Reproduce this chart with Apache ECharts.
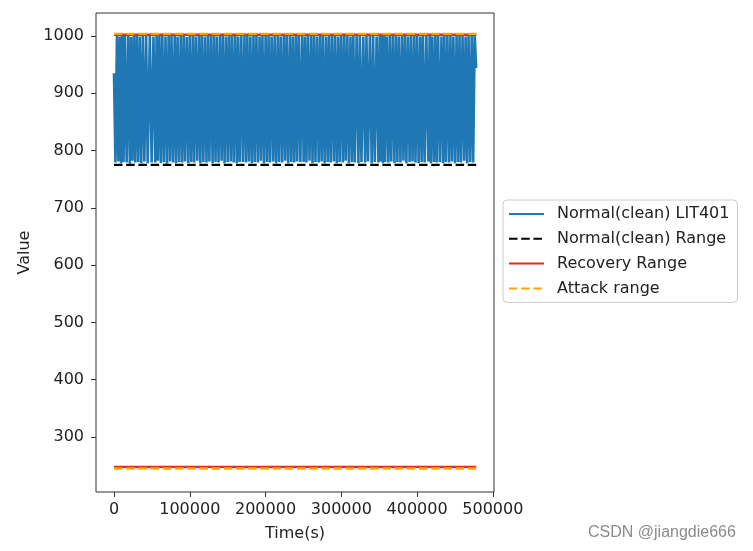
<!DOCTYPE html>
<html>
<head>
<meta charset="utf-8">
<script src="https://cdn.jsdelivr.net/npm/echarts@6/dist/echarts.min.js"></script>
<style>
  html, body { margin: 0; padding: 0; background: #fff; }
  #chart { width: 753px; height: 551px; }
</style>
</head>
<body>
<div id="chart"></div>
<script>
// ---- Data ----
// LIT401 vertex times, in thousands of seconds
const lit401TimeKs = [
  0, 1.9, 3.9, 5.8, 7.6, 9.4, 11.0, 12.6, 14.5, 16.7, 18.9, 20.9, 22.6, 24.4, 26.3, 28.1, 30.0, 32.0, 33.9, 36.0,
  38.0, 40.1, 42.4, 44.5, 47.3, 49.7, 52.1, 54.5, 56.2, 58.0, 59.9, 61.9, 63.8, 65.9, 68.0, 70.0, 72.1, 74.0, 75.9, 78.0,
  80.1, 82.0, 83.9, 86.0, 88.1, 90.0, 92.0, 93.9, 96.0, 98.1, 100.0, 102.0, 104.1, 105.9, 108.0, 110.0, 112.1, 114.0, 115.9, 118.0,
  120.0, 122.1, 124.0, 125.9, 128.0, 130.1, 132.0, 134.0, 135.9, 138.0, 140.1, 142.0, 144.0, 145.9, 148.1, 150.0, 152.0, 154.1, 155.9, 158.0,
  160.0, 162.1, 163.9, 165.8, 168.0, 170.1, 172.2, 174.2, 176.0, 178.1, 180.0, 182.0, 184.1, 185.9, 188.0, 190.0, 192.1, 194.0, 195.9, 198.0,
  200.1, 202.0, 204.0, 205.9, 208.0, 210.1, 212.0, 214.0, 216.1, 217.9, 220.0, 222.0, 224.1, 226.0, 227.9, 230.0, 232.1, 234.0, 236.0, 237.9,
  240.0, 241.8, 243.8, 246.0, 248.2, 250.3, 252.0, 254.0, 255.9, 258.0, 260.1, 262.0, 264.0, 265.9, 268.0, 270.1, 272.0, 274.0, 275.9, 278.0,
  280.1, 282.0, 284.0, 285.9, 288.0, 290.1, 292.0, 294.0, 296.1, 297.9, 300.0, 302.1, 304.0, 305.9, 308.0, 310.0, 312.1, 314.0, 315.9, 317.8,
  320.2, 322.6, 324.4, 326.6, 329.0, 331.4, 333.2, 335.3, 337.7, 340.1, 342.0, 344.2, 346.6, 349.0, 350.6, 352.0, 353.5, 355.0, 356.5, 357.9,
  360.0, 362.1, 364.0, 365.9, 368.0, 370.1, 372.0, 374.0, 375.9, 378.0, 380.1, 382.0, 384.0, 385.9, 388.0, 390.1, 392.0, 394.0, 396.1, 397.9,
  400.0, 402.0, 404.1, 406.0, 407.8, 409.9, 412.3, 414.7, 416.6, 418.2, 420.0, 422.1, 424.0, 425.8, 427.8, 430.0, 432.2, 434.2, 436.0, 437.9,
  440.0, 442.1, 444.0, 446.0, 447.9, 450.0, 452.1, 454.0, 456.0, 457.9, 460.0, 462.1, 464.0, 466.0, 467.9, 470.0, 472.1, 474.0, 476.0, 478.0
];
// LIT401 tank level at those vertices
const lit401Value = [
  935, 779, 1000, 781, 999, 778, 1001, 780, 1000, 779, 1000, 777, 998, 782, 1000, 779, 1001, 780, 999, 778,
  1000, 781, 1001, 778, 1000, 779, 999, 779, 1000, 782, 1001, 778, 1000, 780, 999, 777, 1000, 781, 1001, 779,
  1000, 778, 999, 780, 1001, 779, 1000, 781, 998, 778, 1000, 780, 1001, 779, 999, 782, 1000, 778, 1001, 780,
  999, 779, 1000, 781, 1001, 778, 1000, 780, 999, 779, 1001, 782, 1000, 778, 999, 780, 1000, 781, 1001, 779,
  1000, 778, 999, 780, 1000, 780, 1001, 779, 1000, 781, 999, 778, 1000, 780, 1001, 779, 999, 782, 1000, 778,
  1001, 780, 1000, 779, 999, 781, 1000, 778, 1001, 780, 999, 779, 1000, 782, 1001, 778, 1000, 780, 999, 779,
  1000, 781, 1001, 780, 1000, 780, 999, 779, 1000, 782, 1001, 778, 1000, 780, 999, 779, 1001, 781, 1000, 778,
  999, 780, 1000, 779, 1001, 781, 1000, 778, 999, 780, 1000, 779, 1001, 782, 1000, 778, 999, 780, 1000, 779,
  1000, 778, 1001, 780, 999, 779, 1000, 781, 1001, 778, 1000, 780, 999, 779, 1000, 781, 1001, 778, 1000, 780,
  999, 779, 1000, 781, 1001, 778, 1000, 780, 999, 779, 1001, 782, 1000, 778, 999, 780, 1000, 781, 1001, 779,
  1000, 778, 999, 780, 1000, 779, 1001, 781, 1000, 778, 999, 780, 1001, 779, 1000, 780, 999, 778, 1000, 780,
  1001, 779, 1000, 781, 999, 778, 1000, 780, 1001, 779, 1000, 782, 999, 778, 1000, 780, 1001, 779, 1000, 944
];
// Horizontal range lines span the recording period (seconds)
const rangeSpan = [0, 478000];
const normalRange = [775, 1003];     // black dashed
const recoveryRange = [248, 1002];   // red solid
const attackRange = [245, 1003.5];   // orange dashed
const xTicks = [0, 100000, 200000, 300000, 400000, 500000];
const yTicks = [300, 400, 500, 600, 700, 800, 900, 1000];
const seriesNames = ['Normal(clean) LIT401', 'Normal(clean) Range', 'Recovery Range', 'Attack range'];

// ---- Build series data ----
const lit401Data = lit401TimeKs.map((t, i) => [t * 1000, lit401Value[i]]);
function hLine(v) { return [[rangeSpan[0], v], [rangeSpan[1], v], null]; }
function rangeData(r) { return hLine(r[0]).concat(hLine(r[1])); }

const FONT = 'DejaVu Sans';
const FS = 16;
const chart = echarts.init(document.getElementById('chart'), null, { renderer: 'canvas' });
chart.setOption({
  animation: false,
  backgroundColor: '#fff',
  grid: { left: 96, right: 259, top: 13, bottom: 59, show: true, borderColor: '#333', borderWidth: 1, backgroundColor: 'transparent' },
  xAxis: {
    type: 'value', min: -23750, max: 501500,
    name: 'Time(s)', nameLocation: 'middle', nameGap: 34,
    nameTextStyle: { fontFamily: FONT, fontSize: FS, color: '#222' },
    axisLine: { show: false, onZero: false },
    splitLine: { show: false },
    axisTick: { show: true, inside: false, length: 5, customValues: xTicks, lineStyle: { color: '#333', width: 1 } },
    axisLabel: { customValues: xTicks, formatter: v => String(v), fontFamily: FONT, fontSize: FS, color: '#222', margin: 10 }
  },
  yAxis: {
    type: 'value', min: 204, max: 1040,
    name: 'Value', nameLocation: 'middle', nameGap: 57, nameRotate: 90,
    nameTextStyle: { fontFamily: FONT, fontSize: FS, color: '#222' },
    axisLine: { show: false, onZero: false },
    splitLine: { show: false },
    axisTick: { show: true, inside: false, length: 5, customValues: yTicks, lineStyle: { color: '#333', width: 1 } },
    axisLabel: { customValues: yTicks, formatter: v => String(v), fontFamily: FONT, fontSize: FS, color: '#222', margin: 12 }
  },
  legend: {
    orient: 'vertical', left: 503, top: 200,
    padding: [6, 8, 6, 5],
    itemWidth: 35, itemHeight: 14, itemGap: 8.8,
    backgroundColor: '#fff', borderColor: '#cccccc', borderWidth: 1, borderRadius: 4,
    itemStyle: { color: 'rgba(0,0,0,0)', borderColor: 'rgba(0,0,0,0)', borderWidth: 0, opacity: 0 },
    textStyle: { fontFamily: FONT, fontSize: FS, color: '#222', padding: [0, 0, 0, 8] },
    data: seriesNames
  },
  series: [
    { name: seriesNames[0], type: 'line', data: lit401Data, symbol: 'none', z: 2,
      lineStyle: { color: '#1f77b4', width: 2.6, join: 'bevel' }, itemStyle: { color: '#1f77b4' } },
    { name: seriesNames[1], type: 'line', data: rangeData(normalRange), symbol: 'none', z: 3, connectNulls: false,
      lineStyle: { color: '#000', width: 2.3, type: [8.5, 3.7] }, itemStyle: { color: '#000' } },
    { name: seriesNames[2], type: 'line', data: rangeData(recoveryRange), symbol: 'none', z: 4, connectNulls: false,
      lineStyle: { color: '#e42b20', width: 2.3 }, itemStyle: { color: '#e42b20' } },
    { name: seriesNames[3], type: 'line', data: rangeData(attackRange), symbol: 'none', z: 5, connectNulls: false,
      lineStyle: { color: '#ffa500', width: 2.3, type: [8.5, 3.7] }, itemStyle: { color: '#ffa500' } }
  ],
  graphic: [
    { type: 'text', left: 588, top: 525, z: 100,
      style: { text: 'CSDN @jiangdie666', font: '16px "Liberation Sans"', fill: '#8a8a8a' } }
  ]
});
</script>
</body>
</html>
